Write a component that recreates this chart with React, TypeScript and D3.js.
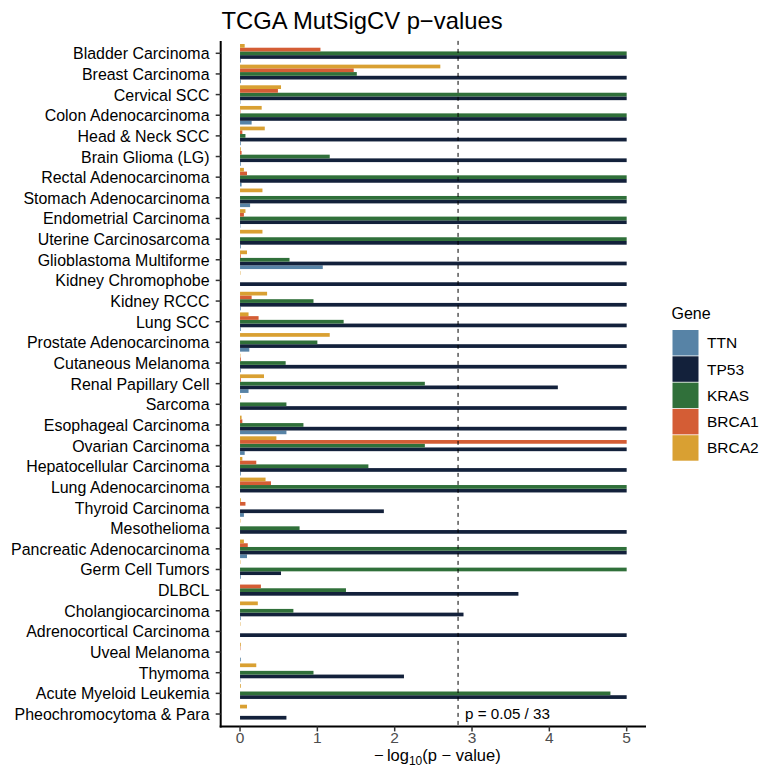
import React from "react";
import * as d3 from "d3";

const categories = [
  "Bladder Carcinoma", "Breast Carcinoma", "Cervical SCC", "Colon Adenocarcinoma",
  "Head & Neck SCC", "Brain Glioma (LG)", "Rectal Adenocarcinoma", "Stomach Adenocarcinoma",
  "Endometrial Carcinoma", "Uterine Carcinosarcoma", "Glioblastoma Multiforme", "Kidney Chromophobe",
  "Kidney RCCC", "Lung SCC", "Prostate Adenocarcinoma", "Cutaneous Melanoma",
  "Renal Papillary Cell", "Sarcoma", "Esophageal Carcinoma", "Ovarian Carcinoma",
  "Hepatocellular Carcinoma", "Lung Adenocarcinoma", "Thyroid Carcinoma", "Mesothelioma",
  "Pancreatic Adenocarcinoma", "Germ Cell Tumors", "DLBCL", "Cholangiocarcinoma",
  "Adrenocortical Carcinoma", "Uveal Melanoma", "Thymoma", "Acute Myeloid Leukemia",
  "Pheochromocytoma & Para",
];

const genes = ["TTN", "TP53", "KRAS", "BRCA1", "BRCA2"];
const geneColors = ["#5783a6", "#13213b", "#30703a", "#d45d35", "#d9a032"];

const ttn = [0.01, 0.01, 0.005, 0.15, 0.01, 0.01, 0.02, 0.13, 0.005, 0.01, 1.07, 0, 0.01, 0.01, 0.12, 0.01, 0.11, 0, 0.6, 0.06, 0.01, 0, 0.05, 0, 0.09, 0.01, 0, 0.01, 0, 0.01, 0.005, 0, 0];
const tp53 = [5, 5, 5, 5, 5, 5, 5, 5, 5, 5, 5, 5, 5, 5, 5, 5, 4.11, 5, 5, 5, 5, 5, 1.86, 5, 5, 0.53, 3.6, 2.89, 5, 0, 2.12, 5, 0.6];
const kras = [5, 1.51, 5, 5, 0.07, 1.16, 5, 5, 5, 5, 0.64, 0, 0.95, 1.34, 1.0, 0.59, 2.39, 0.6, 0.82, 2.39, 1.66, 5, 0, 0.77, 5, 5, 1.37, 0.69, 0, 0, 0.95, 4.79, 0];
const brca1 = [1.04, 1.47, 0.49, 0.005, 0.03, 0.02, 0.09, 0, 0.05, 0, 0.01, 0, 0.15, 0.24, 0, 0.01, 0.01, 0, 0.03, 5, 0.21, 0.4, 0.07, 0, 0.1, 0, 0.27, 0, 0, 0.005, 0, 0, 0];
const brca2 = [0.06, 2.59, 0.53, 0.28, 0.32, 0.01, 0.05, 0.29, 0.07, 0.29, 0.09, 0.005, 0.35, 0.11, 1.16, 0.005, 0.31, 0.01, 0.02, 0.47, 0.03, 0.33, 0.01, 0.005, 0.05, 0.005, 0, 0.23, 0.005, 0.01, 0.21, 0.01, 0.09];
const seriesValues = [ttn, tp53, kras, brca1, brca2];

const xTicks = [0, 1, 2, 3, 4, 5];
const threshold = -Math.log10(0.05 / 33);

const FONT = "'Liberation Sans', Arial, Helvetica, sans-serif";

export default function App() {
  const W = 777, H = 771;
  const left = 220.7, right = 646, top = 40.9, bottom = 726.4;

  const x = d3.scaleLinear().domain([-0.25, 5.25]).range([left, right]);
  const y = d3.scalePoint<string>().domain(categories).range([top, bottom]).padding(0.6);
  const step = y.step();
  const dodge = d3.scaleBand<string>().domain([...genes].reverse()).range([-0.45 * step, 0.45 * step]).padding(0);

  const bars: JSX.Element[] = [];
  categories.forEach((c, ci) => {
    genes.forEach((g, gi) => {
      const v = seriesValues[gi][ci];
      if (v <= 0) return;
      const y0 = (y(c) as number) + (dodge(g) as number);
      bars.push(
        <rect key={c + g} x={x(0)} y={y0} width={x(v) - x(0)} height={dodge.bandwidth()} fill={geneColors[gi]} />
      );
    });
  });

  const legX = 672.5, legY = 330, keyW = 26, keyH = 25.5, keyStep = 26.3;

  return (
    <svg width={W} height={H} style={{ position: "absolute", left: 0, top: 0, background: "#fff" }} fontFamily={FONT}>
      <rect x={0} y={0} width={W} height={H} fill="#fff" />
      <text x={221.5} y={28.5} fontSize={23.8} fill="#000">TCGA MutSigCV p−values</text>
      {bars}
      <line x1={x(threshold)} x2={x(threshold)} y1={top} y2={bottom} stroke="#000" strokeWidth={1} strokeDasharray="4,4" />
      <text x={x(threshold) + 7} y={719} fontSize={15.2} fill="#000">p = 0.05 / 33</text>
      {/* axes */}
      <line x1={left} x2={left} y1={top} y2={bottom + 1} stroke="#000" strokeWidth={2} />
      <line x1={left - 1} x2={right} y1={bottom} y2={bottom} stroke="#000" strokeWidth={2} />
      {categories.map((c) => (
        <g key={c}>
          <line x1={left - 5} x2={left} y1={y(c)} y2={y(c)} stroke="#333" strokeWidth={1.5} />
          <text x={209.5} y={(y(c) as number) + 6} fontSize={15.95} textAnchor="end" fill="#000">{c}</text>
        </g>
      ))}
      {xTicks.map((t) => (
        <g key={t}>
          <line x1={x(t)} x2={x(t)} y1={bottom} y2={bottom + 5} stroke="#333" strokeWidth={1.5} />
          <text x={x(t)} y={743} fontSize={15.5} textAnchor="middle" fill="#4d4d4d">{t}</text>
        </g>
      ))}
      <text x={(left + right) / 2 + 4} y={761} fontSize={16.5} textAnchor="middle" fill="#000">
        −{"\u2009"}log<tspan fontSize={12} dy={4}>10</tspan><tspan dy={-4}>(p − value)</tspan>
      </text>
      {/* legend */}
      <text x={671.5} y={318.5} fontSize={16} fill="#000">Gene</text>
      {genes.map((g, i) => (
        <g key={g}>
          <rect x={legX} y={legY + i * keyStep} width={keyW} height={keyH} fill={geneColors[i]} />
          <text x={707} y={legY + i * keyStep + keyH / 2 + 5.5} fontSize={15.5} fill="#000">{g}</text>
        </g>
      ))}
    </svg>
  );
}
